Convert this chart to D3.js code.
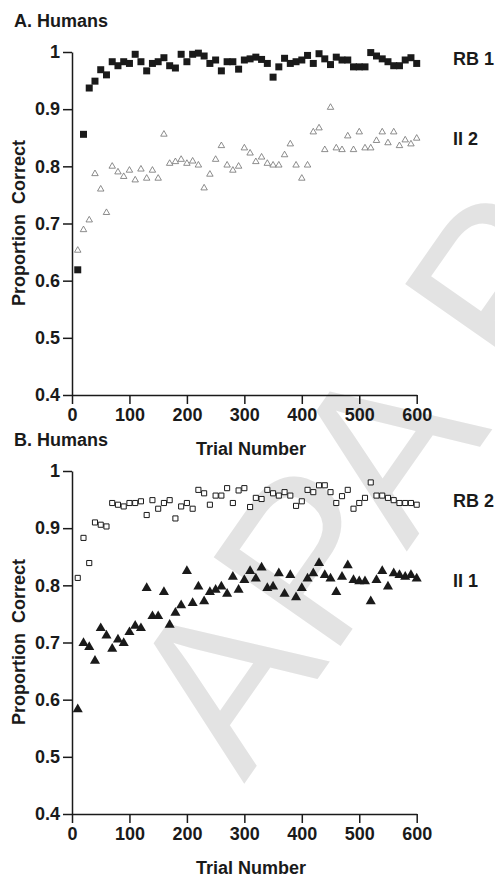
<!DOCTYPE html>
<html>
<head>
<meta charset="utf-8">
<script src="https://cdn.jsdelivr.net/npm/d3@7"></script>
<style>
  body { margin: 0; background: #fff; }
  svg text { font-family: "Liberation Sans", Arial, Helvetica, sans-serif; }
  .axis text { font-size: 18px; font-weight: bold; fill: #1a1a1a; }
  .axis path, .axis line { stroke: #1a1a1a; stroke-width: 1.5px; }
  .lbl { font-size: 18px; font-weight: bold; fill: #1a1a1a; }
</style>
</head>
<body>
<div id="chart"></div>
<script>
// trial blocks (x values), same for every series
const trials = [10, 20, 30, 40, 50, 60, 70, 80, 90, 100, 110, 120, 130, 140, 150, 160, 170, 180, 190, 200,
  210, 220, 230, 240, 250, 260, 270, 280, 290, 300, 310, 320, 330, 340, 350, 360, 370, 380, 390, 400,
  410, 420, 430, 440, 450, 460, 470, 480, 490, 500, 510, 520, 530, 540, 550, 560, 570, 580, 590, 600];

// A. Humans
const rb1 = [0.619, 0.856, 0.937, 0.949, 0.969, 0.960, 0.983, 0.976, 0.983, 0.980,
  0.996, 0.983, 0.967, 0.980, 0.983, 0.990, 0.976, 0.972, 0.996, 0.983,
  0.996, 0.998, 0.993, 0.980, 0.986, 0.967, 0.983, 0.983, 0.970, 0.986,
  0.988, 0.991, 0.987, 0.980, 0.956, 0.974, 0.989, 0.980, 0.983, 0.986,
  0.994, 0.980, 0.997, 0.988, 0.978, 0.991, 0.986, 0.986, 0.974, 0.974,
  0.974, 0.999, 0.993, 0.988, 0.983, 0.976, 0.976, 0.986, 0.990, 0.980];
const ii2 = [0.653, 0.689, 0.706, 0.787, 0.760, 0.719, 0.800, 0.790, 0.782, 0.793,
  0.776, 0.795, 0.779, 0.793, 0.779, 0.856, 0.805, 0.808, 0.812, 0.805,
  0.809, 0.802, 0.762, 0.786, 0.812, 0.836, 0.802, 0.793, 0.800, 0.832,
  0.823, 0.808, 0.816, 0.805, 0.802, 0.802, 0.820, 0.839, 0.802, 0.779,
  0.802, 0.860, 0.867, 0.829, 0.903, 0.832, 0.829, 0.853, 0.829, 0.860,
  0.832, 0.832, 0.845, 0.860, 0.841, 0.860, 0.836, 0.846, 0.839, 0.849];

// B. Humans
const rb2 = [0.813, 0.883, 0.839, 0.910, 0.906, 0.903, 0.944, 0.941, 0.938, 0.944,
  0.944, 0.947, 0.923, 0.949, 0.934, 0.944, 0.949, 0.917, 0.938, 0.944,
  0.934, 0.967, 0.961, 0.941, 0.957, 0.957, 0.970, 0.944, 0.966, 0.970,
  0.937, 0.953, 0.951, 0.967, 0.961, 0.957, 0.963, 0.957, 0.939, 0.947,
  0.967, 0.963, 0.975, 0.975, 0.963, 0.944, 0.956, 0.967, 0.934, 0.944,
  0.953, 0.980, 0.957, 0.957, 0.953, 0.949, 0.944, 0.944, 0.944, 0.941];
const ii1 = [0.583, 0.699, 0.692, 0.668, 0.725, 0.712, 0.689, 0.705, 0.699, 0.718,
  0.729, 0.725, 0.795, 0.746, 0.746, 0.788, 0.731, 0.752, 0.765, 0.825,
  0.769, 0.798, 0.772, 0.788, 0.792, 0.798, 0.785, 0.815, 0.792, 0.809,
  0.825, 0.812, 0.831, 0.795, 0.798, 0.821, 0.785, 0.818, 0.779, 0.795,
  0.812, 0.821, 0.839, 0.818, 0.812, 0.788, 0.815, 0.835, 0.809, 0.807,
  0.807, 0.772, 0.809, 0.825, 0.798, 0.821, 0.818, 0.815, 0.818, 0.812];

const xTicks = [0, 100, 200, 300, 400, 500, 600];
const yTicks = [0.4, 0.5, 0.6, 0.7, 0.8, 0.9, 1];

const W = 495, H = 877;
const svg = d3.select("#chart").append("svg")
    .attr("width", W)
    .attr("height", H);

// watermark behind the plots
svg.append("text")
    .attr("transform", "translate(244,784) rotate(-55)")
    .style("font-family", "'Liberation Sans', Arial, sans-serif")
    .style("font-size", "225px")
    .style("fill", "#e3e3e3")
    .style("white-space", "pre")
    .text("APA P");

const x = d3.scaleLinear().domain([0, 600]).range([72, 416.7]);

const squarePath = d3.symbol().type(d3.symbolSquare).size(49)();
const openSquarePath = d3.symbol().type(d3.symbolSquare).size(26)();
const triPath = d3.symbol().type(d3.symbolTriangle).size(18)();
const fillTriPath = d3.symbol().type(d3.symbolTriangle).size(44)();

function drawPanel(top, title, series) {
    const y = d3.scaleLinear().domain([0.4, 1]).range([top + 343, top]);
    const g = svg.append("g");

    g.append("text").attr("class", "lbl")
        .attr("x", 14).attr("y", top - 25)
        .text(title);

    g.append("g").attr("class", "axis")
        .attr("transform", "translate(72,0)")
        .call(d3.axisLeft(y).tickValues(yTicks).tickSize(9).tickSizeOuter(0).tickPadding(3)
            .tickFormat(d => d === 1 ? "1" : d3.format(".1f")(d)));

    g.append("g").attr("class", "axis")
        .attr("transform", "translate(0," + y(0.4) + ")")
        .call(d3.axisBottom(x).tickValues(xTicks).tickSize(9).tickSizeOuter(0).tickPadding(4));

    g.append("text").attr("class", "lbl")
        .attr("x", 251).attr("y", y(0.4) + 60)
        .attr("text-anchor", "middle")
        .text("Trial Number");

    g.append("text").attr("class", "lbl")
        .attr("transform", "translate(25," + (top + 171) + ") rotate(-90)")
        .attr("text-anchor", "middle")
        .style("white-space", "pre")
        .text("Proportion  Correct");

    series.forEach(s => {
        g.append("g").selectAll("path")
            .data(s.values)
            .enter().append("path")
            .attr("transform", (d, i) => "translate(" + x(trials[i]) + "," + y(d) + ")")
            .attr("d", s.path)
            .attr("fill", s.fill)
            .attr("stroke", s.stroke)
            .attr("stroke-width", s.sw);

        g.append("text").attr("class", "lbl")
            .attr("x", 453).attr("y", y(s.labelAt) + 6)
            .text(s.name);
    });
}

drawPanel(52, "A. Humans", [
    { name: "II 2", values: ii2, path: triPath, fill: "#fff", stroke: "#707070", sw: 0.8, labelAt: 0.848 },
    { name: "RB 1", values: rb1, path: squarePath, fill: "#1a1a1a", stroke: "none", sw: 0, labelAt: 0.988 }
]);

drawPanel(471, "B. Humans", [
    { name: "RB 2", values: rb2, path: openSquarePath, fill: "#fff", stroke: "#1a1a1a", sw: 1, labelAt: 0.948 },
    { name: "II 1", values: ii1, path: fillTriPath, fill: "#1a1a1a", stroke: "none", sw: 0, labelAt: 0.808 }
]);
</script>
</body>
</html>
